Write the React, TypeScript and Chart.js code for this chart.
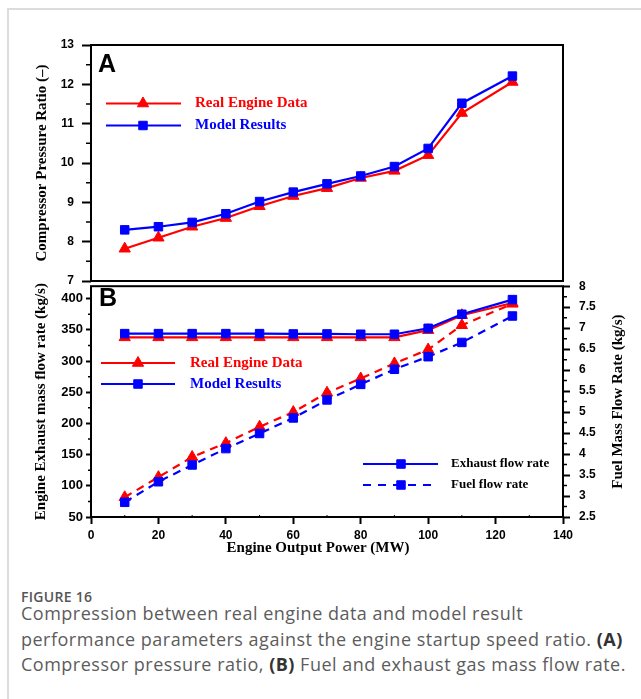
import React, { useEffect, useRef } from 'react';
import { Chart, registerables } from 'chart.js';

Chart.register(...registerables);

// ---------- data ----------
const POWER = [10, 20, 30, 40, 50, 60, 70, 80, 90, 100, 110, 125];

const PR_REAL = [7.82, 8.1, 8.38, 8.6, 8.9, 9.16, 9.36, 9.62, 9.8, 10.2, 11.27, 12.06];
const PR_MODEL = [8.3, 8.38, 8.49, 8.71, 9.02, 9.26, 9.47, 9.67, 9.91, 10.37, 11.52, 12.21];

const EXH_REAL = [338, 338, 338, 338, 338, 338, 338, 338, 338, 349.5, 373.5, 393];
const EXH_MODEL = [344, 344, 344, 344, 344, 343.5, 343.5, 343, 343, 352.5, 375, 398.5];

const FUEL_REAL = [2.97, 3.45, 3.93, 4.26, 4.65, 5.0, 5.46, 5.8, 6.16, 6.49, 7.07, 7.58];
const FUEL_MODEL = [2.85, 3.34, 3.74, 4.13, 4.49, 4.86, 5.29, 5.66, 6.02, 6.32, 6.66, 7.29];

const X_TICKS = [0, 20, 40, 60, 80, 100, 120, 140];
const X_MINOR = [10, 30, 50, 70, 90, 110, 130];
const PR_TICKS = [7, 8, 9, 10, 11, 12, 13];
const PR_MINOR = [7.5, 8.5, 9.5, 10.5, 11.5, 12.5];
const EXH_TICKS = [50, 100, 150, 200, 250, 300, 350, 400];
const EXH_MINOR = [75, 125, 175, 225, 275, 325, 375];
const FUEL_TICKS = [2.5, 3, 3.5, 4, 4.5, 5, 5.5, 6, 6.5, 7, 7.5, 8];
const FUEL_MINOR = [2.75, 3.25, 3.75, 4.25, 4.75, 5.25, 5.75, 6.25, 6.75, 7.25, 7.75];

const SERIES_LABELS = ['Real Engine Data', 'Model Results'];
const FLOW_LABELS = ['Exhaust flow rate', 'Fuel flow rate'];
const X_TITLE = 'Engine Output Power (MW)';
const PR_TITLE = 'Compressor Pressure Ratio (\u2013)';
const EXH_TITLE = 'Engine Exhaust mass flow rate (kg/s)';
const FUEL_TITLE = 'Fuel Mass Flow Rate (kg/s)';

// ---------- styling ----------
const RED = '#ff0000';
const BLUE = '#0000ff';
const W = 641;
const A_H = 300;
const B_TOP = 270;
const B_H = 310;
const PLOT_L = 91;
const PLOT_R = 563;
const SANS = '"Liberation Sans", Arial, sans-serif';
const TICK_FONT = { family: SANS, size: 12, weight: 'bold' as const };
const TICK_FONT_B = { family: SANS, size: 13, weight: 'bold' as const };
const SERIF = '"Liberation Serif", "Times New Roman", serif';
const TITLE_FONT = { family: SERIF, size: 15, weight: 'bold' as const };
const DASH = [8, 6];

const pts = (ys: number[]) => POWER.map((x, i) => ({ x, y: ys[i] }));
const plainLabel = (v: any) => `${v}`;

function drawMarker(ctx: CanvasRenderingContext2D, style: string, x: number, y: number, r: number, color: string) {
  ctx.save();
  ctx.setLineDash([]);
  ctx.fillStyle = color;
  ctx.strokeStyle = color;
  ctx.lineWidth = 1;
  ctx.beginPath();
  if (style === 'triangle') {
    ctx.moveTo(x, y - r);
    ctx.lineTo(x + 0.866 * r, y + 0.5 * r);
    ctx.lineTo(x - 0.866 * r, y + 0.5 * r);
    ctx.closePath();
  } else {
    const s = Math.SQRT1_2 * r;
    ctx.rect(x - s, y - s, 2 * s, 2 * s);
  }
  ctx.fill();
  ctx.stroke();
  ctx.restore();
}

function legendRow(
  ctx: CanvasRenderingContext2D,
  x1: number, x2: number, mx: number, y: number,
  color: string, dash: number[], marker: string, r: number,
  text: string, textX: number, font: string, textColor: string
) {
  ctx.save();
  ctx.strokeStyle = color;
  ctx.lineWidth = 2.2;
  ctx.setLineDash(dash);
  ctx.beginPath();
  ctx.moveTo(x1, y);
  ctx.lineTo(x2, y);
  ctx.stroke();
  ctx.restore();
  drawMarker(ctx, marker, mx, y, r, color);
  ctx.save();
  ctx.font = font;
  ctx.fillStyle = textColor;
  ctx.textBaseline = 'middle';
  ctx.textAlign = 'left';
  ctx.fillText(text, textX, y);
  ctx.restore();
}

function drawFrame(ctx: CanvasRenderingContext2D, chart: any) {
  const { left, right, top, bottom } = chart.chartArea;
  ctx.save();
  ctx.strokeStyle = '#000';
  ctx.lineWidth = 2;
  ctx.setLineDash([]);
  ctx.strokeRect(left, top, right - left, bottom - top);
  ctx.restore();
}

function minorTicks(ctx: CanvasRenderingContext2D, scale: any, values: number[], side: string, len: number, width = 1.5) {
  ctx.save();
  ctx.strokeStyle = '#000';
  ctx.lineWidth = width;
  ctx.beginPath();
  values.forEach((v) => {
    const p = scale.getPixelForValue(v);
    if (side === 'left') { ctx.moveTo(scale.right - len, p); ctx.lineTo(scale.right, p); }
    else if (side === 'right') { ctx.moveTo(scale.left, p); ctx.lineTo(scale.left + len, p); }
    else if (side === 'bottomIn') { ctx.moveTo(p, scale.top - len); ctx.lineTo(p, scale.top); }
  });
  ctx.stroke();
  ctx.restore();
}

const lineDs = (label: string, data: any[], color: string, marker: string, r: number, order: number, extra: any = {}) => ({
  label,
  data,
  borderColor: color,
  backgroundColor: color,
  pointBackgroundColor: color,
  pointBorderColor: color,
  pointStyle: marker,
  pointRadius: r,
  pointBorderWidth: 1,
  borderWidth: 2.2,
  tension: 0,
  order,
  ...extra,
});

export default function App() {
  const refA = useRef<HTMLCanvasElement>(null);
  const refB = useRef<HTMLCanvasElement>(null);

  useEffect(() => {
    const decorA = {
      id: 'decorA',
      afterDraw(chart: any) {
        const ctx = chart.ctx as CanvasRenderingContext2D;
        drawFrame(ctx, chart);
        minorTicks(ctx, chart.scales.y, PR_MINOR, 'left', 5);
        ctx.save();
        ctx.font = `bold 25px ${SANS}`;
        ctx.fillStyle = '#000';
        ctx.textBaseline = 'alphabetic';
        ctx.fillText('A', 98, 72);
        ctx.restore();
        const f = `bold 15px ${SERIF}`;
        legendRow(ctx, 106, 181, 143, 103.5, RED, [], 'triangle', 6.5, SERIES_LABELS[0], 195, f, RED);
        legendRow(ctx, 106, 181, 143, 125.5, BLUE, [], 'rect', 6, SERIES_LABELS[1], 195, f, BLUE);
      },
    };

    const chartA = new Chart(refA.current!, {
      type: 'line',
      data: {
        datasets: [
          lineDs(SERIES_LABELS[0], pts(PR_REAL), RED, 'triangle', 6.5, 1),
          lineDs(SERIES_LABELS[1], pts(PR_MODEL), BLUE, 'rect', 6, 0),
        ],
      },
      options: {
        responsive: false,
        animation: false,
        devicePixelRatio: 1,
        layout: { padding: { top: 45, left: 0, right: W - PLOT_R, bottom: A_H - 281 }, autoPadding: false },
        plugins: { legend: { display: false }, tooltip: { enabled: false } },
        scales: {
          x: { type: 'linear', min: 0, max: 140, display: false },
          y: {
            type: 'linear',
            min: 7,
            max: 13,
            afterBuildTicks: (s: any) => { s.ticks = PR_TICKS.map((v) => ({ value: v })); },
            afterFit: (s: any) => { s.width = PLOT_L; },
            border: { display: false },
            grid: { drawOnChartArea: false, drawTicks: true, tickLength: 9, tickWidth: 2, tickColor: '#000' },
            ticks: { font: TICK_FONT, color: '#000', padding: 8, callback: plainLabel },
            title: {
              display: true,
              text: PR_TITLE,
              color: '#000',
              font: TITLE_FONT,
              padding: { top: 33.5, bottom: 0 },
            },
          },
        },
      },
      plugins: [decorA],
    } as any);

    const decorB = {
      id: 'decorB',
      afterDraw(chart: any) {
        const ctx = chart.ctx as CanvasRenderingContext2D;
        drawFrame(ctx, chart);
        minorTicks(ctx, chart.scales.y, EXH_MINOR, 'left', 3);
        minorTicks(ctx, chart.scales.y2, FUEL_MINOR, 'right', 4);
        minorTicks(ctx, chart.scales.x, X_MINOR, 'bottomIn', 2, 1);
        ctx.save();
        ctx.font = `bold 25px ${SANS}`;
        ctx.fillStyle = '#000';
        ctx.fillText('B', 99, 306 - B_TOP);
        ctx.restore();
        const f = `bold 15px ${SERIF}`;
        legendRow(ctx, 101, 175, 138, 363 - B_TOP, RED, [], 'triangle', 6.5, SERIES_LABELS[0], 190, f, RED);
        legendRow(ctx, 101, 175, 138, 384 - B_TOP, BLUE, [], 'rect', 6, SERIES_LABELS[1], 190, f, BLUE);
        const f2 = `bold 13px ${SERIF}`;
        legendRow(ctx, 363, 438, 401, 464 - B_TOP, BLUE, [], 'rect', 6, FLOW_LABELS[0], 451, f2, '#000');
        legendRow(ctx, 363, 438, 401, 485 - B_TOP, BLUE, [8, 7], 'rect', 6, FLOW_LABELS[1], 451, f2, '#000');
        // axis titles
        ctx.save();
        ctx.fillStyle = '#000';
        ctx.font = `bold 15px ${SERIF}`;
        ctx.textAlign = 'center';
        ctx.textBaseline = 'middle';
        ctx.fillText(X_TITLE, 318, 548 - B_TOP);
        const cy = (chart.chartArea.top + chart.chartArea.bottom) / 2;
        ctx.translate(618, cy);
        ctx.rotate(-Math.PI / 2);
        ctx.fillText(FUEL_TITLE, 0, 0);
        ctx.restore();
      },
    };

    const chartB = new Chart(refB.current!, {
      type: 'line',
      data: {
        datasets: [
          lineDs(SERIES_LABELS[0], pts(EXH_REAL), RED, 'triangle', 6.5, 3, { yAxisID: 'y' }),
          lineDs(SERIES_LABELS[1], pts(EXH_MODEL), BLUE, 'rect', 6, 1, { yAxisID: 'y' }),
          lineDs(SERIES_LABELS[0], pts(FUEL_REAL), RED, 'triangle', 6.5, 2, { yAxisID: 'y2', borderDash: DASH }),
          lineDs(SERIES_LABELS[1], pts(FUEL_MODEL), BLUE, 'rect', 6, 0, { yAxisID: 'y2', borderDash: DASH }),
        ],
      },
      options: {
        responsive: false,
        animation: false,
        devicePixelRatio: 1,
        layout: { padding: { top: 281 - B_TOP, left: 0, right: 0, bottom: 0 }, autoPadding: false },
        plugins: { legend: { display: false }, tooltip: { enabled: false } },
        scales: {
          x: {
            type: 'linear',
            min: 0,
            max: 140,
            afterBuildTicks: (s: any) => { s.ticks = X_TICKS.map((v) => ({ value: v })); },
            afterFit: (s: any) => { s.height = B_TOP + B_H - 517; },
            border: { display: false },
            grid: { drawOnChartArea: false, drawTicks: true, tickLength: 7, tickWidth: 2, tickColor: '#000' },
            ticks: { font: TICK_FONT, color: '#000', padding: 4, maxRotation: 0, callback: plainLabel },
          },
          y: {
            type: 'linear',
            position: 'left',
            min: 50,
            max: 420,
            afterBuildTicks: (s: any) => { s.ticks = EXH_TICKS.map((v) => ({ value: v })); },
            afterFit: (s: any) => { s.width = PLOT_L; },
            border: { display: false },
            grid: { drawOnChartArea: false, drawTicks: true, tickLength: 5, tickWidth: 2, tickColor: '#000' },
            ticks: { font: TICK_FONT_B, color: '#000', padding: 3, callback: plainLabel },
            title: {
              display: true,
              text: EXH_TITLE,
              color: '#000',
              font: TITLE_FONT,
              padding: { top: 32.5, bottom: 0 },
            },
          },
          y2: {
            type: 'linear',
            position: 'right',
            min: 2.5,
            max: 8,
            afterBuildTicks: (s: any) => { s.ticks = FUEL_TICKS.map((v) => ({ value: v })); },
            afterFit: (s: any) => { s.width = W - PLOT_R; },
            border: { display: false },
            grid: { drawOnChartArea: false, drawTicks: true, tickLength: 7, tickWidth: 2, tickColor: '#000' },
            ticks: { font: TICK_FONT, color: '#000', padding: 9, callback: plainLabel },
          },
        },
      },
      plugins: [decorB],
    } as any);

    return () => {
      chartA.destroy();
      chartB.destroy();
    };
  }, []);

  const capFont = '"Open Sans", "Noto Sans", sans-serif';
  const capLine: React.CSSProperties = {
    position: 'absolute',
    left: 21,
    whiteSpace: 'nowrap',
    fontFamily: capFont,
    fontSize: 18,
    letterSpacing: '0.5px',
    lineHeight: '25.5px',
    color: '#5c5c5c',
  };
  const bold: React.CSSProperties = { fontWeight: 700, color: '#333' };

  return (
    <div style={{ position: 'absolute', left: 0, top: 0, width: W, height: 699, background: '#fff', overflow: 'hidden' }}>
      <div style={{ position: 'absolute', left: 8, top: 8, width: W - 8, height: 2, background: '#dcdcdc' }} />
      <div style={{ position: 'absolute', left: 7, top: 8, width: 1.5, height: 699 - 8, background: '#dcdcdc' }} />
      <canvas ref={refA} width={W} height={A_H} style={{ position: 'absolute', left: 0, top: 0, width: W, height: A_H }} />
      <canvas ref={refB} width={W} height={B_H} style={{ position: 'absolute', left: 0, top: B_TOP, width: W, height: B_H }} />
      <div style={{ ...capLine, top: 587, fontSize: 14, letterSpacing: '0.3px', lineHeight: '20px', fontWeight: 600, color: '#555' }}>FIGURE 16</div>
      <div style={{ ...capLine, top: 601 }}>Compression between real engine data and model result</div>
      <div style={{ ...capLine, top: 626.5 }}>
        performance parameters against the engine startup speed ratio. <span style={bold}>(A)</span>
      </div>
      <div style={{ ...capLine, top: 652 }}>
        Compressor pressure ratio, <span style={bold}>(B)</span> Fuel and exhaust gas mass flow rate.
      </div>
    </div>
  );
}
